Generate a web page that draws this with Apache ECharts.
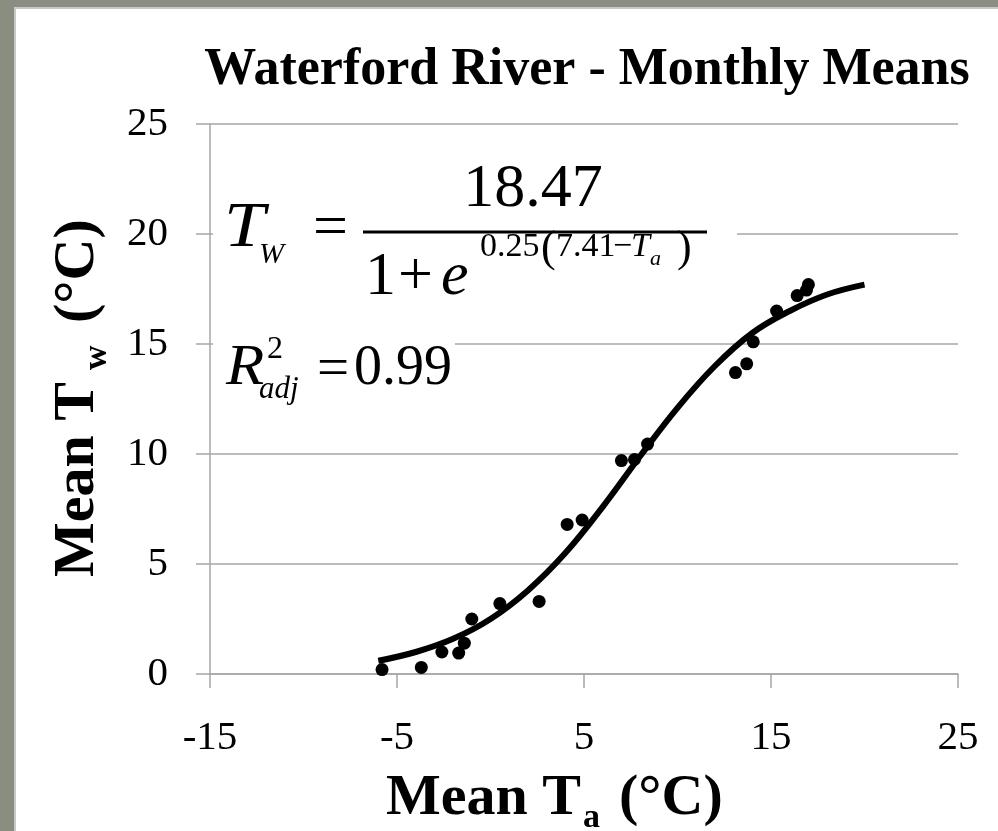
<!DOCTYPE html>
<html>
<head>
<meta charset="utf-8">
<script src="https://cdn.jsdelivr.net/npm/echarts@6/dist/echarts.min.js"></script>
<style>
html,body{margin:0;padding:0;background:#8a8e80;}
#chart{width:998px;height:831px;}
</style>
</head>
<body>
<div id="chart"></div>
<script>
// Observed monthly means
var airTemp   = [-5.8, -3.7, -2.6, -1.7, -1.4, -1.0, 0.5, 2.6, 4.1, 4.9, 7.0, 7.7, 8.4, 13.1, 13.7, 14.05, 15.3, 16.4, 16.9, 17.0];
var waterTemp = [0.2, 0.3, 1.0, 0.95, 1.4, 2.5, 3.2, 3.3, 6.8, 7.0, 9.7, 9.75, 10.45, 13.7, 14.1, 15.1, 16.5, 17.2, 17.45, 17.7];
// Fitted curve
var curveTa = [-6, -4, -2, 0, 2, 4, 6, 8, 10, 12, 14, 16, 18, 20];
var curveTw = [0.6, 1.0, 1.6, 2.5, 3.8, 5.5, 7.6, 9.9, 12.1, 14.0, 15.5, 16.5, 17.25, 17.7];
// Axis ticks
var xTicks = [-15, -5, 5, 15, 25];
var yTicks = [0, 5, 10, 15, 20, 25];

var FONT = "'Liberation Serif','Times New Roman',serif";
var GRID = '#a6a6a6';

var scatterData = airTemp.map(function (x, i) { return [x, waterTemp[i]]; });
var curveData = curveTa.map(function (x, i) { return [x, curveTw[i]]; });

// text placed by its alphabetic baseline (approximated from middle alignment)
function bl(text, x, base, size, opts) {
  opts = opts || {};
  return {
    type: 'text', z: 20, silent: true,
    x: x, y: base - 0.33 * size,
    scaleX: opts.sx || 1,
    style: {
      text: text, x: 0, y: 0,
      font: (opts.italic ? 'italic ' : '') + (opts.bold ? 'bold ' : '') + size + 'px ' + FONT,
      fill: '#000',
      textAlign: opts.align || 'left',
      textVerticalAlign: 'middle'
    }
  };
}

var chart = echarts.init(document.getElementById('chart'), null, {renderer: 'canvas'});
chart.setOption({
  backgroundColor: '#8a8e80',
  animation: false,
  grid: {left: 210, right: 40, top: 124, bottom: 157},
  xAxis: {
    type: 'value', min: xTicks[0], max: xTicks[xTicks.length - 1], interval: 10,
    axisLine: {show: true, onZero: false, lineStyle: {color: GRID, width: 1.5}},
    axisTick: {show: true, length: 14, lineStyle: {color: GRID, width: 1.5}},
    splitLine: {show: false},
    axisLabel: {fontFamily: FONT, fontSize: 41, color: '#000', margin: 44}
  },
  yAxis: {
    type: 'value', min: yTicks[0], max: yTicks[yTicks.length - 1], interval: 5,
    axisLine: {show: true, onZero: false, lineStyle: {color: GRID, width: 1.5}},
    axisTick: {show: true, length: 14, lineStyle: {color: GRID, width: 1.5}},
    splitLine: {show: true, lineStyle: {color: GRID, width: 1.5}},
    axisLabel: {fontFamily: FONT, fontSize: 41, color: '#000', margin: 42}
  },
  series: [
    {
      type: 'line', data: curveData, smooth: 0.4, showSymbol: false, z: 3,
      lineStyle: {color: '#000', width: 6}
    },
    {
      type: 'scatter', data: scatterData, symbolSize: 13, z: 4,
      itemStyle: {color: '#000', opacity: 1}
    }
  ],
  graphic: [
    {type: 'rect', z: -10, silent: true, shape: {x: 15, y: 8, width: 990, height: 830},
     style: {fill: '#fff', stroke: '#c8c8c8', lineWidth: 2}},
    {type: 'rect', z: 10, silent: true, shape: {x: 213, y: 160, width: 524, height: 148}, style: {fill: '#fff'}},
    {type: 'rect', z: 10, silent: true, shape: {x: 213, y: 318, width: 242, height: 86}, style: {fill: '#fff'}},
    // title
    bl('Waterford River - Monthly Means', 587, 88, 52, {bold: true, align: 'center'}),
    // x axis name
    bl('Mean T', 386, 818, 58, {bold: true}),
    bl('a', 583, 829, 34, {bold: true}),
    bl('(°C)', 619, 818, 58, {bold: true}),
    // y axis name (rotated)
    {type: 'group', x: 97, y: 577, rotation: Math.PI / 2, z: 20, children: [
      bl('Mean T', 0, 0, 58, {bold: true}),
      bl('w', 207, 11, 34, {bold: true}),
      bl('(°C)', 254, 0, 58, {bold: true})
    ]},
    // equation
    bl('T', 224, 250, 64, {italic: true, sx: 1.15}),
    bl('W', 259, 265, 30, {italic: true}),
    bl('=', 313, 250, 62),
    {type: 'line', z: 20, silent: true, shape: {x1: 363, y1: 232, x2: 707, y2: 232}, style: {stroke: '#000', lineWidth: 3}},
    bl('18.47', 533, 210, 62, {align: 'center'}),
    bl('1', 365, 298, 62),
    bl('+', 398, 298, 62),
    bl('e', 441, 298, 62, {italic: true}),
    bl('0.25', 480, 258, 34),
    bl('(', 541, 264, 44),
    bl('7.41', 556, 258, 34),
    bl('\u2212', 613, 258, 34),
    bl('T', 631, 258, 34, {italic: true}),
    bl('a', 650, 266, 22, {italic: true}),
    bl(')', 677, 264, 44),
    // R^2 adj
    bl('R', 226, 388, 57, {italic: true, sx: 1.1}),
    bl('2', 267, 360, 32),
    bl('adj', 259, 400, 31, {italic: true}),
    bl('=', 317, 390, 57),
    bl('0.99', 354, 388, 56)
  ]
});
</script>
</body>
</html>
